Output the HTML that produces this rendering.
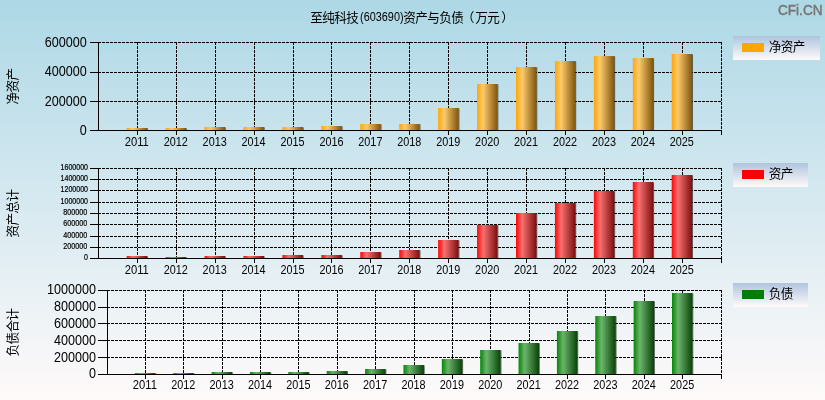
<!DOCTYPE html>
<html lang="zh-CN">
<head>
<meta charset="utf-8">
<title>至纯科技(603690)资产与负债（万元）</title>
<style>
html,body{margin:0;padding:0;background:#fff;}
body{width:825px;height:400px;overflow:hidden;font-family:"Liberation Sans", "Noto Sans CJK SC", sans-serif;}
svg{display:block;}
svg text{fill:#000;}
.lt{font-family:"Liberation Sans", "Noto Sans CJK SC", sans-serif;}
.cj{font-family:"Liberation Sans", "Noto Sans CJK SC", sans-serif;}
.gd{stroke:#000;stroke-width:1;stroke-dasharray:3 1;shape-rendering:crispEdges;}
.ax{stroke:#000;stroke-width:1;shape-rendering:crispEdges;}
</style>
</head>
<body>
<svg width="825" height="400" viewBox="0 0 825 400">
<defs>
<linearGradient id="bg" x1="0" y1="0" x2="0" y2="1"><stop offset="0" stop-color="#add8e6"/><stop offset="1" stop-color="#fffafa"/></linearGradient>
<linearGradient id="lg" x1="0" y1="0" x2="0" y2="1"><stop offset="0" stop-color="#b0c4de"/><stop offset="1" stop-color="#fffafa"/></linearGradient>
<linearGradient id="g1" x1="0" y1="0" x2="1" y2="0"><stop offset="0" stop-color="#ffa50a"/><stop offset="0.3" stop-color="#fdcb6c"/><stop offset="1" stop-color="#7f540c"/></linearGradient>
<linearGradient id="g2" x1="0" y1="0" x2="1" y2="0"><stop offset="0" stop-color="#ff0505"/><stop offset="0.3" stop-color="#f97070"/><stop offset="1" stop-color="#7c0e0e"/></linearGradient>
<linearGradient id="g3" x1="0" y1="0" x2="1" y2="0"><stop offset="0" stop-color="#058505"/><stop offset="0.3" stop-color="#6cb46c"/><stop offset="1" stop-color="#084208"/></linearGradient>
</defs>
<rect x="0" y="0" width="825" height="400" fill="url(#bg)"/>
<text x="310.3" y="22.0" font-size="12.6px" letter-spacing="-0.6" class="cj">至纯科技<tspan class="lt" font-size="13.2px" letter-spacing="0" textLength="43.5" lengthAdjust="spacingAndGlyphs" dx="1.8" dy="-1.0">(603690)</tspan><tspan dx="-0.4" dy="1.0">资产与负债</tspan><tspan dx="-1.4">（</tspan><tspan dx="1.4">万元</tspan><tspan dx="2.2">）</tspan></text>
<text x="778" y="15" font-size="15.4px" class="lt" style="fill:#7a7474;stroke:#7a7474;stroke-width:0.5px" textLength="44.5" lengthAdjust="spacingAndGlyphs">CFi.CN</text>
<g id="c1">
<line x1="90" y1="130.5" x2="98" y2="130.5" class="ax"/>
<text x="86.7" y="134.50" font-size="14px" textLength="7.00" lengthAdjust="spacingAndGlyphs" text-anchor="end" class="lt">0</text>
<line x1="98" y1="101.5" x2="722" y2="101.5" class="gd"/>
<line x1="90" y1="101.5" x2="98" y2="101.5" class="ax"/>
<text x="86.7" y="105.80" font-size="14px" textLength="42.00" lengthAdjust="spacingAndGlyphs" text-anchor="end" class="lt">200000</text>
<line x1="98" y1="72.5" x2="722" y2="72.5" class="gd"/>
<line x1="90" y1="72.5" x2="98" y2="72.5" class="ax"/>
<text x="86.7" y="76.30" font-size="14px" textLength="42.00" lengthAdjust="spacingAndGlyphs" text-anchor="end" class="lt">400000</text>
<line x1="98" y1="42.5" x2="722" y2="42.5" class="gd"/>
<line x1="90" y1="42.5" x2="98" y2="42.5" class="ax"/>
<text x="86.7" y="46.80" font-size="14px" textLength="42.00" lengthAdjust="spacingAndGlyphs" text-anchor="end" class="lt">600000</text>
<line x1="137.5" y1="42" x2="137.5" y2="130" class="gd"/>
<line x1="137.5" y1="131" x2="137.5" y2="135" class="ax"/>
<line x1="176.5" y1="42" x2="176.5" y2="130" class="gd"/>
<line x1="176.5" y1="131" x2="176.5" y2="135" class="ax"/>
<line x1="215.5" y1="42" x2="215.5" y2="130" class="gd"/>
<line x1="215.5" y1="131" x2="215.5" y2="135" class="ax"/>
<line x1="254.5" y1="42" x2="254.5" y2="130" class="gd"/>
<line x1="254.5" y1="131" x2="254.5" y2="135" class="ax"/>
<line x1="293.5" y1="42" x2="293.5" y2="130" class="gd"/>
<line x1="293.5" y1="131" x2="293.5" y2="135" class="ax"/>
<line x1="331.5" y1="42" x2="331.5" y2="130" class="gd"/>
<line x1="331.5" y1="131" x2="331.5" y2="135" class="ax"/>
<line x1="370.5" y1="42" x2="370.5" y2="130" class="gd"/>
<line x1="370.5" y1="131" x2="370.5" y2="135" class="ax"/>
<line x1="409.5" y1="42" x2="409.5" y2="130" class="gd"/>
<line x1="409.5" y1="131" x2="409.5" y2="135" class="ax"/>
<line x1="448.5" y1="42" x2="448.5" y2="130" class="gd"/>
<line x1="448.5" y1="131" x2="448.5" y2="135" class="ax"/>
<line x1="487.5" y1="42" x2="487.5" y2="130" class="gd"/>
<line x1="487.5" y1="131" x2="487.5" y2="135" class="ax"/>
<line x1="526.5" y1="42" x2="526.5" y2="130" class="gd"/>
<line x1="526.5" y1="131" x2="526.5" y2="135" class="ax"/>
<line x1="565.5" y1="42" x2="565.5" y2="130" class="gd"/>
<line x1="565.5" y1="131" x2="565.5" y2="135" class="ax"/>
<line x1="604.5" y1="42" x2="604.5" y2="130" class="gd"/>
<line x1="604.5" y1="131" x2="604.5" y2="135" class="ax"/>
<line x1="643.5" y1="42" x2="643.5" y2="130" class="gd"/>
<line x1="643.5" y1="131" x2="643.5" y2="135" class="ax"/>
<line x1="682.5" y1="42" x2="682.5" y2="130" class="gd"/>
<line x1="682.5" y1="131" x2="682.5" y2="135" class="ax"/>
<line x1="721.5" y1="131" x2="721.5" y2="135" class="ax"/>
<line x1="721.5" y1="42" x2="721.5" y2="130" class="gd"/>
<rect x="146.90" y="128.4" width="1.1" height="1.6" fill="#000" opacity="0.55"/>
<rect x="126.70" y="128" width="20.50" height="2" fill="url(#g1)"/>
<rect x="185.83" y="128.4" width="1.1" height="1.6" fill="#000" opacity="0.55"/>
<rect x="165.63" y="128" width="20.50" height="2" fill="url(#g1)"/>
<rect x="224.76" y="127.4" width="1.1" height="2.6" fill="#000" opacity="0.55"/>
<rect x="204.56" y="127" width="20.50" height="3" fill="url(#g1)"/>
<rect x="263.69" y="127.4" width="1.1" height="2.6" fill="#000" opacity="0.55"/>
<rect x="243.49" y="127" width="20.50" height="3" fill="url(#g1)"/>
<rect x="302.62" y="127.4" width="1.1" height="2.6" fill="#000" opacity="0.55"/>
<rect x="282.42" y="127" width="20.50" height="3" fill="url(#g1)"/>
<rect x="341.55" y="126.4" width="1.1" height="3.6" fill="#000" opacity="0.55"/>
<rect x="321.35" y="126" width="20.50" height="4" fill="url(#g1)"/>
<rect x="380.48" y="124.4" width="1.1" height="5.6" fill="#000" opacity="0.55"/>
<rect x="360.28" y="124" width="20.50" height="6" fill="url(#g1)"/>
<rect x="419.41" y="124.4" width="1.1" height="5.6" fill="#000" opacity="0.55"/>
<rect x="399.21" y="124" width="20.50" height="6" fill="url(#g1)"/>
<rect x="458.34" y="108.4" width="1.1" height="21.6" fill="#000" opacity="0.55"/>
<rect x="438.14" y="108" width="20.50" height="22" fill="url(#g1)"/>
<rect x="497.27" y="84.4" width="1.1" height="45.6" fill="#000" opacity="0.55"/>
<rect x="477.07" y="84" width="20.50" height="46" fill="url(#g1)"/>
<rect x="536.20" y="67.4" width="1.1" height="62.6" fill="#000" opacity="0.55"/>
<rect x="516.00" y="67" width="20.50" height="63" fill="url(#g1)"/>
<rect x="575.13" y="61.4" width="1.1" height="68.6" fill="#000" opacity="0.55"/>
<rect x="554.93" y="61" width="20.50" height="69" fill="url(#g1)"/>
<rect x="614.06" y="56.4" width="1.1" height="73.6" fill="#000" opacity="0.55"/>
<rect x="593.86" y="56" width="20.50" height="74" fill="url(#g1)"/>
<rect x="652.99" y="58.4" width="1.1" height="71.6" fill="#000" opacity="0.55"/>
<rect x="632.79" y="58" width="20.50" height="72" fill="url(#g1)"/>
<rect x="691.92" y="54.4" width="1.1" height="75.6" fill="#000" opacity="0.55"/>
<rect x="671.72" y="54" width="20.50" height="76" fill="url(#g1)"/>
<line x1="98.5" y1="42" x2="98.5" y2="131" class="ax"/>
<line x1="98" y1="130.5" x2="722" y2="130.5" class="ax"/>
<text x="136.80" y="146.0" font-size="12.6px" textLength="24.1" lengthAdjust="spacingAndGlyphs" text-anchor="middle" class="lt">2011</text>
<text x="175.73" y="146.0" font-size="12.6px" textLength="24.1" lengthAdjust="spacingAndGlyphs" text-anchor="middle" class="lt">2012</text>
<text x="214.66" y="146.0" font-size="12.6px" textLength="24.1" lengthAdjust="spacingAndGlyphs" text-anchor="middle" class="lt">2013</text>
<text x="253.59" y="146.0" font-size="12.6px" textLength="24.1" lengthAdjust="spacingAndGlyphs" text-anchor="middle" class="lt">2014</text>
<text x="292.52" y="146.0" font-size="12.6px" textLength="24.1" lengthAdjust="spacingAndGlyphs" text-anchor="middle" class="lt">2015</text>
<text x="331.45" y="146.0" font-size="12.6px" textLength="24.1" lengthAdjust="spacingAndGlyphs" text-anchor="middle" class="lt">2016</text>
<text x="370.38" y="146.0" font-size="12.6px" textLength="24.1" lengthAdjust="spacingAndGlyphs" text-anchor="middle" class="lt">2017</text>
<text x="409.31" y="146.0" font-size="12.6px" textLength="24.1" lengthAdjust="spacingAndGlyphs" text-anchor="middle" class="lt">2018</text>
<text x="448.24" y="146.0" font-size="12.6px" textLength="24.1" lengthAdjust="spacingAndGlyphs" text-anchor="middle" class="lt">2019</text>
<text x="487.17" y="146.0" font-size="12.6px" textLength="24.1" lengthAdjust="spacingAndGlyphs" text-anchor="middle" class="lt">2020</text>
<text x="526.10" y="146.0" font-size="12.6px" textLength="24.1" lengthAdjust="spacingAndGlyphs" text-anchor="middle" class="lt">2021</text>
<text x="565.03" y="146.0" font-size="12.6px" textLength="24.1" lengthAdjust="spacingAndGlyphs" text-anchor="middle" class="lt">2022</text>
<text x="603.96" y="146.0" font-size="12.6px" textLength="24.1" lengthAdjust="spacingAndGlyphs" text-anchor="middle" class="lt">2023</text>
<text x="642.89" y="146.0" font-size="12.6px" textLength="24.1" lengthAdjust="spacingAndGlyphs" text-anchor="middle" class="lt">2024</text>
<text x="681.82" y="146.0" font-size="12.6px" textLength="24.1" lengthAdjust="spacingAndGlyphs" text-anchor="middle" class="lt">2025</text>
<text transform="translate(16.9,86.5) rotate(-90)" font-size="12.6px" letter-spacing="-0.6" text-anchor="middle" class="cj">净资产</text>
<rect x="733" y="36" width="87" height="24" fill="url(#lg)"/>
<rect x="742" y="43" width="22" height="9" fill="#FFA500"/>
<text x="768.8" y="51.1" font-size="12.6px" letter-spacing="-0.6" class="cj">净资产</text>
</g>
<g id="c2">
<line x1="90" y1="258.5" x2="98" y2="258.5" class="ax"/>
<text x="88" y="259.75" font-size="8.2px" textLength="3.92" lengthAdjust="spacingAndGlyphs" text-anchor="end" class="lt" style="stroke:#000;stroke-width:0.2px">0</text>
<line x1="98" y1="247.5" x2="722" y2="247.5" class="gd"/>
<line x1="90" y1="247.5" x2="98" y2="247.5" class="ax"/>
<text x="87.2" y="248.75" font-size="8.2px" textLength="24.00" lengthAdjust="spacingAndGlyphs" text-anchor="end" class="lt" style="stroke:#000;stroke-width:0.2px">200000</text>
<line x1="98" y1="236.5" x2="722" y2="236.5" class="gd"/>
<line x1="90" y1="236.5" x2="98" y2="236.5" class="ax"/>
<text x="87.2" y="237.75" font-size="8.2px" textLength="24.00" lengthAdjust="spacingAndGlyphs" text-anchor="end" class="lt" style="stroke:#000;stroke-width:0.2px">400000</text>
<line x1="98" y1="224.5" x2="722" y2="224.5" class="gd"/>
<line x1="90" y1="224.5" x2="98" y2="224.5" class="ax"/>
<text x="87.2" y="225.75" font-size="8.2px" textLength="24.00" lengthAdjust="spacingAndGlyphs" text-anchor="end" class="lt" style="stroke:#000;stroke-width:0.2px">600000</text>
<line x1="98" y1="213.5" x2="722" y2="213.5" class="gd"/>
<line x1="90" y1="213.5" x2="98" y2="213.5" class="ax"/>
<text x="87.2" y="214.75" font-size="8.2px" textLength="24.00" lengthAdjust="spacingAndGlyphs" text-anchor="end" class="lt" style="stroke:#000;stroke-width:0.2px">800000</text>
<line x1="98" y1="202.5" x2="722" y2="202.5" class="gd"/>
<line x1="90" y1="202.5" x2="98" y2="202.5" class="ax"/>
<text x="88" y="203.75" font-size="8.2px" textLength="27.44" lengthAdjust="spacingAndGlyphs" text-anchor="end" class="lt" style="stroke:#000;stroke-width:0.2px">1000000</text>
<line x1="98" y1="190.5" x2="722" y2="190.5" class="gd"/>
<line x1="90" y1="190.5" x2="98" y2="190.5" class="ax"/>
<text x="88" y="191.75" font-size="8.2px" textLength="27.44" lengthAdjust="spacingAndGlyphs" text-anchor="end" class="lt" style="stroke:#000;stroke-width:0.2px">1200000</text>
<line x1="98" y1="179.5" x2="722" y2="179.5" class="gd"/>
<line x1="90" y1="179.5" x2="98" y2="179.5" class="ax"/>
<text x="88" y="180.75" font-size="8.2px" textLength="27.44" lengthAdjust="spacingAndGlyphs" text-anchor="end" class="lt" style="stroke:#000;stroke-width:0.2px">1400000</text>
<line x1="98" y1="168.5" x2="722" y2="168.5" class="gd"/>
<line x1="90" y1="168.5" x2="98" y2="168.5" class="ax"/>
<text x="88" y="169.75" font-size="8.2px" textLength="27.44" lengthAdjust="spacingAndGlyphs" text-anchor="end" class="lt" style="stroke:#000;stroke-width:0.2px">1600000</text>
<line x1="137.5" y1="168" x2="137.5" y2="258" class="gd"/>
<line x1="137.5" y1="259" x2="137.5" y2="263" class="ax"/>
<line x1="176.5" y1="168" x2="176.5" y2="258" class="gd"/>
<line x1="176.5" y1="259" x2="176.5" y2="263" class="ax"/>
<line x1="215.5" y1="168" x2="215.5" y2="258" class="gd"/>
<line x1="215.5" y1="259" x2="215.5" y2="263" class="ax"/>
<line x1="254.5" y1="168" x2="254.5" y2="258" class="gd"/>
<line x1="254.5" y1="259" x2="254.5" y2="263" class="ax"/>
<line x1="293.5" y1="168" x2="293.5" y2="258" class="gd"/>
<line x1="293.5" y1="259" x2="293.5" y2="263" class="ax"/>
<line x1="331.5" y1="168" x2="331.5" y2="258" class="gd"/>
<line x1="331.5" y1="259" x2="331.5" y2="263" class="ax"/>
<line x1="370.5" y1="168" x2="370.5" y2="258" class="gd"/>
<line x1="370.5" y1="259" x2="370.5" y2="263" class="ax"/>
<line x1="409.5" y1="168" x2="409.5" y2="258" class="gd"/>
<line x1="409.5" y1="259" x2="409.5" y2="263" class="ax"/>
<line x1="448.5" y1="168" x2="448.5" y2="258" class="gd"/>
<line x1="448.5" y1="259" x2="448.5" y2="263" class="ax"/>
<line x1="487.5" y1="168" x2="487.5" y2="258" class="gd"/>
<line x1="487.5" y1="259" x2="487.5" y2="263" class="ax"/>
<line x1="526.5" y1="168" x2="526.5" y2="258" class="gd"/>
<line x1="526.5" y1="259" x2="526.5" y2="263" class="ax"/>
<line x1="565.5" y1="168" x2="565.5" y2="258" class="gd"/>
<line x1="565.5" y1="259" x2="565.5" y2="263" class="ax"/>
<line x1="604.5" y1="168" x2="604.5" y2="258" class="gd"/>
<line x1="604.5" y1="259" x2="604.5" y2="263" class="ax"/>
<line x1="643.5" y1="168" x2="643.5" y2="258" class="gd"/>
<line x1="643.5" y1="259" x2="643.5" y2="263" class="ax"/>
<line x1="682.5" y1="168" x2="682.5" y2="258" class="gd"/>
<line x1="682.5" y1="259" x2="682.5" y2="263" class="ax"/>
<line x1="721.5" y1="259" x2="721.5" y2="263" class="ax"/>
<line x1="721.5" y1="168" x2="721.5" y2="258" class="gd"/>
<rect x="146.90" y="256.4" width="1.1" height="1.6" fill="#000" opacity="0.55"/>
<rect x="126.70" y="256" width="20.50" height="2" fill="url(#g2)"/>
<rect x="185.83" y="257.4" width="1.1" height="0.6" fill="#000" opacity="0.55"/>
<rect x="165.63" y="257" width="20.50" height="1" fill="url(#g2)"/>
<rect x="224.76" y="256.4" width="1.1" height="1.6" fill="#000" opacity="0.55"/>
<rect x="204.56" y="256" width="20.50" height="2" fill="url(#g2)"/>
<rect x="263.69" y="256.4" width="1.1" height="1.6" fill="#000" opacity="0.55"/>
<rect x="243.49" y="256" width="20.50" height="2" fill="url(#g2)"/>
<rect x="302.62" y="255.4" width="1.1" height="2.6" fill="#000" opacity="0.55"/>
<rect x="282.42" y="255" width="20.50" height="3" fill="url(#g2)"/>
<rect x="341.55" y="255.4" width="1.1" height="2.6" fill="#000" opacity="0.55"/>
<rect x="321.35" y="255" width="20.50" height="3" fill="url(#g2)"/>
<rect x="380.48" y="252.4" width="1.1" height="5.6" fill="#000" opacity="0.55"/>
<rect x="360.28" y="252" width="20.50" height="6" fill="url(#g2)"/>
<rect x="419.41" y="250.4" width="1.1" height="7.6" fill="#000" opacity="0.55"/>
<rect x="399.21" y="250" width="20.50" height="8" fill="url(#g2)"/>
<rect x="458.34" y="240.4" width="1.1" height="17.6" fill="#000" opacity="0.55"/>
<rect x="438.14" y="240" width="20.50" height="18" fill="url(#g2)"/>
<rect x="497.27" y="225.4" width="1.1" height="32.6" fill="#000" opacity="0.55"/>
<rect x="477.07" y="225" width="20.50" height="33" fill="url(#g2)"/>
<rect x="536.20" y="213.4" width="1.1" height="44.6" fill="#000" opacity="0.55"/>
<rect x="516.00" y="213" width="20.50" height="45" fill="url(#g2)"/>
<rect x="575.13" y="203.4" width="1.1" height="54.6" fill="#000" opacity="0.55"/>
<rect x="554.93" y="203" width="20.50" height="55" fill="url(#g2)"/>
<rect x="614.06" y="191.4" width="1.1" height="66.6" fill="#000" opacity="0.55"/>
<rect x="593.86" y="191" width="20.50" height="67" fill="url(#g2)"/>
<rect x="652.99" y="182.4" width="1.1" height="75.6" fill="#000" opacity="0.55"/>
<rect x="632.79" y="182" width="20.50" height="76" fill="url(#g2)"/>
<rect x="691.92" y="175.4" width="1.1" height="82.6" fill="#000" opacity="0.55"/>
<rect x="671.72" y="175" width="20.50" height="83" fill="url(#g2)"/>
<line x1="98.5" y1="168" x2="98.5" y2="259" class="ax"/>
<line x1="98" y1="258.5" x2="722" y2="258.5" class="ax"/>
<text x="136.80" y="274.0" font-size="12.6px" textLength="24.1" lengthAdjust="spacingAndGlyphs" text-anchor="middle" class="lt">2011</text>
<text x="175.73" y="274.0" font-size="12.6px" textLength="24.1" lengthAdjust="spacingAndGlyphs" text-anchor="middle" class="lt">2012</text>
<text x="214.66" y="274.0" font-size="12.6px" textLength="24.1" lengthAdjust="spacingAndGlyphs" text-anchor="middle" class="lt">2013</text>
<text x="253.59" y="274.0" font-size="12.6px" textLength="24.1" lengthAdjust="spacingAndGlyphs" text-anchor="middle" class="lt">2014</text>
<text x="292.52" y="274.0" font-size="12.6px" textLength="24.1" lengthAdjust="spacingAndGlyphs" text-anchor="middle" class="lt">2015</text>
<text x="331.45" y="274.0" font-size="12.6px" textLength="24.1" lengthAdjust="spacingAndGlyphs" text-anchor="middle" class="lt">2016</text>
<text x="370.38" y="274.0" font-size="12.6px" textLength="24.1" lengthAdjust="spacingAndGlyphs" text-anchor="middle" class="lt">2017</text>
<text x="409.31" y="274.0" font-size="12.6px" textLength="24.1" lengthAdjust="spacingAndGlyphs" text-anchor="middle" class="lt">2018</text>
<text x="448.24" y="274.0" font-size="12.6px" textLength="24.1" lengthAdjust="spacingAndGlyphs" text-anchor="middle" class="lt">2019</text>
<text x="487.17" y="274.0" font-size="12.6px" textLength="24.1" lengthAdjust="spacingAndGlyphs" text-anchor="middle" class="lt">2020</text>
<text x="526.10" y="274.0" font-size="12.6px" textLength="24.1" lengthAdjust="spacingAndGlyphs" text-anchor="middle" class="lt">2021</text>
<text x="565.03" y="274.0" font-size="12.6px" textLength="24.1" lengthAdjust="spacingAndGlyphs" text-anchor="middle" class="lt">2022</text>
<text x="603.96" y="274.0" font-size="12.6px" textLength="24.1" lengthAdjust="spacingAndGlyphs" text-anchor="middle" class="lt">2023</text>
<text x="642.89" y="274.0" font-size="12.6px" textLength="24.1" lengthAdjust="spacingAndGlyphs" text-anchor="middle" class="lt">2024</text>
<text x="681.82" y="274.0" font-size="12.6px" textLength="24.1" lengthAdjust="spacingAndGlyphs" text-anchor="middle" class="lt">2025</text>
<text transform="translate(16.9,213.5) rotate(-90)" font-size="12.6px" letter-spacing="-0.6" text-anchor="middle" class="cj">资产总计</text>
<rect x="733" y="163" width="75" height="24" fill="url(#lg)"/>
<rect x="742" y="170" width="22" height="9" fill="#FF0000"/>
<text x="768.8" y="178.1" font-size="12.6px" letter-spacing="-0.6" class="cj">资产</text>
</g>
<g id="c3">
<line x1="98" y1="374.5" x2="107" y2="374.5" class="ax"/>
<text x="96" y="378.20" font-size="14px" textLength="7.00" lengthAdjust="spacingAndGlyphs" text-anchor="end" class="lt">0</text>
<line x1="107" y1="357.5" x2="722" y2="357.5" class="gd"/>
<line x1="98" y1="357.5" x2="107" y2="357.5" class="ax"/>
<text x="96" y="361.90" font-size="14px" textLength="42.00" lengthAdjust="spacingAndGlyphs" text-anchor="end" class="lt">200000</text>
<line x1="107" y1="340.5" x2="722" y2="340.5" class="gd"/>
<line x1="98" y1="340.5" x2="107" y2="340.5" class="ax"/>
<text x="96" y="344.90" font-size="14px" textLength="42.00" lengthAdjust="spacingAndGlyphs" text-anchor="end" class="lt">400000</text>
<line x1="107" y1="323.5" x2="722" y2="323.5" class="gd"/>
<line x1="98" y1="323.5" x2="107" y2="323.5" class="ax"/>
<text x="96" y="327.50" font-size="14px" textLength="42.00" lengthAdjust="spacingAndGlyphs" text-anchor="end" class="lt">600000</text>
<line x1="107" y1="307.5" x2="722" y2="307.5" class="gd"/>
<line x1="98" y1="307.5" x2="107" y2="307.5" class="ax"/>
<text x="96" y="311.00" font-size="14px" textLength="42.00" lengthAdjust="spacingAndGlyphs" text-anchor="end" class="lt">800000</text>
<line x1="107" y1="290.5" x2="722" y2="290.5" class="gd"/>
<line x1="98" y1="290.5" x2="107" y2="290.5" class="ax"/>
<text x="96" y="294.00" font-size="14px" textLength="49.00" lengthAdjust="spacingAndGlyphs" text-anchor="end" class="lt">1000000</text>
<line x1="145.5" y1="290" x2="145.5" y2="374" class="gd"/>
<line x1="145.5" y1="375" x2="145.5" y2="379" class="ax"/>
<line x1="183.5" y1="290" x2="183.5" y2="374" class="gd"/>
<line x1="183.5" y1="375" x2="183.5" y2="379" class="ax"/>
<line x1="222.5" y1="290" x2="222.5" y2="374" class="gd"/>
<line x1="222.5" y1="375" x2="222.5" y2="379" class="ax"/>
<line x1="260.5" y1="290" x2="260.5" y2="374" class="gd"/>
<line x1="260.5" y1="375" x2="260.5" y2="379" class="ax"/>
<line x1="298.5" y1="290" x2="298.5" y2="374" class="gd"/>
<line x1="298.5" y1="375" x2="298.5" y2="379" class="ax"/>
<line x1="337.5" y1="290" x2="337.5" y2="374" class="gd"/>
<line x1="337.5" y1="375" x2="337.5" y2="379" class="ax"/>
<line x1="375.5" y1="290" x2="375.5" y2="374" class="gd"/>
<line x1="375.5" y1="375" x2="375.5" y2="379" class="ax"/>
<line x1="414.5" y1="290" x2="414.5" y2="374" class="gd"/>
<line x1="414.5" y1="375" x2="414.5" y2="379" class="ax"/>
<line x1="452.5" y1="290" x2="452.5" y2="374" class="gd"/>
<line x1="452.5" y1="375" x2="452.5" y2="379" class="ax"/>
<line x1="490.5" y1="290" x2="490.5" y2="374" class="gd"/>
<line x1="490.5" y1="375" x2="490.5" y2="379" class="ax"/>
<line x1="529.5" y1="290" x2="529.5" y2="374" class="gd"/>
<line x1="529.5" y1="375" x2="529.5" y2="379" class="ax"/>
<line x1="567.5" y1="290" x2="567.5" y2="374" class="gd"/>
<line x1="567.5" y1="375" x2="567.5" y2="379" class="ax"/>
<line x1="605.5" y1="290" x2="605.5" y2="374" class="gd"/>
<line x1="605.5" y1="375" x2="605.5" y2="379" class="ax"/>
<line x1="644.5" y1="290" x2="644.5" y2="374" class="gd"/>
<line x1="644.5" y1="375" x2="644.5" y2="379" class="ax"/>
<line x1="682.5" y1="290" x2="682.5" y2="374" class="gd"/>
<line x1="682.5" y1="375" x2="682.5" y2="379" class="ax"/>
<line x1="721.5" y1="375" x2="721.5" y2="379" class="ax"/>
<line x1="721.5" y1="290" x2="721.5" y2="374" class="gd"/>
<rect x="155.10" y="373.4" width="1.1" height="0.6" fill="#000" opacity="0.55"/>
<rect x="134.90" y="373" width="20.50" height="1" fill="url(#g3)"/>
<rect x="193.47" y="373.4" width="1.1" height="0.6" fill="#000" opacity="0.55"/>
<rect x="173.27" y="373" width="20.50" height="1" fill="url(#g3)"/>
<rect x="231.83" y="372.4" width="1.1" height="1.6" fill="#000" opacity="0.55"/>
<rect x="211.63" y="372" width="20.50" height="2" fill="url(#g3)"/>
<rect x="270.19" y="372.4" width="1.1" height="1.6" fill="#000" opacity="0.55"/>
<rect x="250.00" y="372" width="20.50" height="2" fill="url(#g3)"/>
<rect x="308.56" y="372.4" width="1.1" height="1.6" fill="#000" opacity="0.55"/>
<rect x="288.36" y="372" width="20.50" height="2" fill="url(#g3)"/>
<rect x="346.93" y="371.4" width="1.1" height="2.6" fill="#000" opacity="0.55"/>
<rect x="326.73" y="371" width="20.50" height="3" fill="url(#g3)"/>
<rect x="385.29" y="369.4" width="1.1" height="4.6" fill="#000" opacity="0.55"/>
<rect x="365.09" y="369" width="20.50" height="5" fill="url(#g3)"/>
<rect x="423.66" y="365.4" width="1.1" height="8.6" fill="#000" opacity="0.55"/>
<rect x="403.46" y="365" width="20.50" height="9" fill="url(#g3)"/>
<rect x="462.02" y="359.4" width="1.1" height="14.6" fill="#000" opacity="0.55"/>
<rect x="441.82" y="359" width="20.50" height="15" fill="url(#g3)"/>
<rect x="500.39" y="350.4" width="1.1" height="23.6" fill="#000" opacity="0.55"/>
<rect x="480.19" y="350" width="20.50" height="24" fill="url(#g3)"/>
<rect x="538.75" y="343.4" width="1.1" height="30.6" fill="#000" opacity="0.55"/>
<rect x="518.55" y="343" width="20.50" height="31" fill="url(#g3)"/>
<rect x="577.12" y="331.4" width="1.1" height="42.6" fill="#000" opacity="0.55"/>
<rect x="556.92" y="331" width="20.50" height="43" fill="url(#g3)"/>
<rect x="615.48" y="316.4" width="1.1" height="57.6" fill="#000" opacity="0.55"/>
<rect x="595.28" y="316" width="20.50" height="58" fill="url(#g3)"/>
<rect x="653.85" y="301.4" width="1.1" height="72.6" fill="#000" opacity="0.55"/>
<rect x="633.64" y="301" width="20.50" height="73" fill="url(#g3)"/>
<rect x="692.21" y="293.4" width="1.1" height="80.6" fill="#000" opacity="0.55"/>
<rect x="672.01" y="293" width="20.50" height="81" fill="url(#g3)"/>
<line x1="107.5" y1="290" x2="107.5" y2="375" class="ax"/>
<line x1="107" y1="374.5" x2="722" y2="374.5" class="ax"/>
<text x="144.90" y="389.1" font-size="12.6px" textLength="24.1" lengthAdjust="spacingAndGlyphs" text-anchor="middle" class="lt">2011</text>
<text x="183.28" y="389.1" font-size="12.6px" textLength="24.1" lengthAdjust="spacingAndGlyphs" text-anchor="middle" class="lt">2012</text>
<text x="221.65" y="389.1" font-size="12.6px" textLength="24.1" lengthAdjust="spacingAndGlyphs" text-anchor="middle" class="lt">2013</text>
<text x="260.02" y="389.1" font-size="12.6px" textLength="24.1" lengthAdjust="spacingAndGlyphs" text-anchor="middle" class="lt">2014</text>
<text x="298.40" y="389.1" font-size="12.6px" textLength="24.1" lengthAdjust="spacingAndGlyphs" text-anchor="middle" class="lt">2015</text>
<text x="336.77" y="389.1" font-size="12.6px" textLength="24.1" lengthAdjust="spacingAndGlyphs" text-anchor="middle" class="lt">2016</text>
<text x="375.15" y="389.1" font-size="12.6px" textLength="24.1" lengthAdjust="spacingAndGlyphs" text-anchor="middle" class="lt">2017</text>
<text x="413.52" y="389.1" font-size="12.6px" textLength="24.1" lengthAdjust="spacingAndGlyphs" text-anchor="middle" class="lt">2018</text>
<text x="451.90" y="389.1" font-size="12.6px" textLength="24.1" lengthAdjust="spacingAndGlyphs" text-anchor="middle" class="lt">2019</text>
<text x="490.27" y="389.1" font-size="12.6px" textLength="24.1" lengthAdjust="spacingAndGlyphs" text-anchor="middle" class="lt">2020</text>
<text x="528.65" y="389.1" font-size="12.6px" textLength="24.1" lengthAdjust="spacingAndGlyphs" text-anchor="middle" class="lt">2021</text>
<text x="567.02" y="389.1" font-size="12.6px" textLength="24.1" lengthAdjust="spacingAndGlyphs" text-anchor="middle" class="lt">2022</text>
<text x="605.40" y="389.1" font-size="12.6px" textLength="24.1" lengthAdjust="spacingAndGlyphs" text-anchor="middle" class="lt">2023</text>
<text x="643.77" y="389.1" font-size="12.6px" textLength="24.1" lengthAdjust="spacingAndGlyphs" text-anchor="middle" class="lt">2024</text>
<text x="682.15" y="389.1" font-size="12.6px" textLength="24.1" lengthAdjust="spacingAndGlyphs" text-anchor="middle" class="lt">2025</text>
<text transform="translate(16.9,332.5) rotate(-90)" font-size="12.6px" letter-spacing="-0.6" text-anchor="middle" class="cj">负债合计</text>
<rect x="733" y="283" width="75" height="24" fill="url(#lg)"/>
<rect x="742" y="290" width="22" height="9" fill="#008000"/>
<text x="768.8" y="298.1" font-size="12.6px" letter-spacing="-0.6" class="cj">负债</text>
</g>
</svg>
</body>
</html>
